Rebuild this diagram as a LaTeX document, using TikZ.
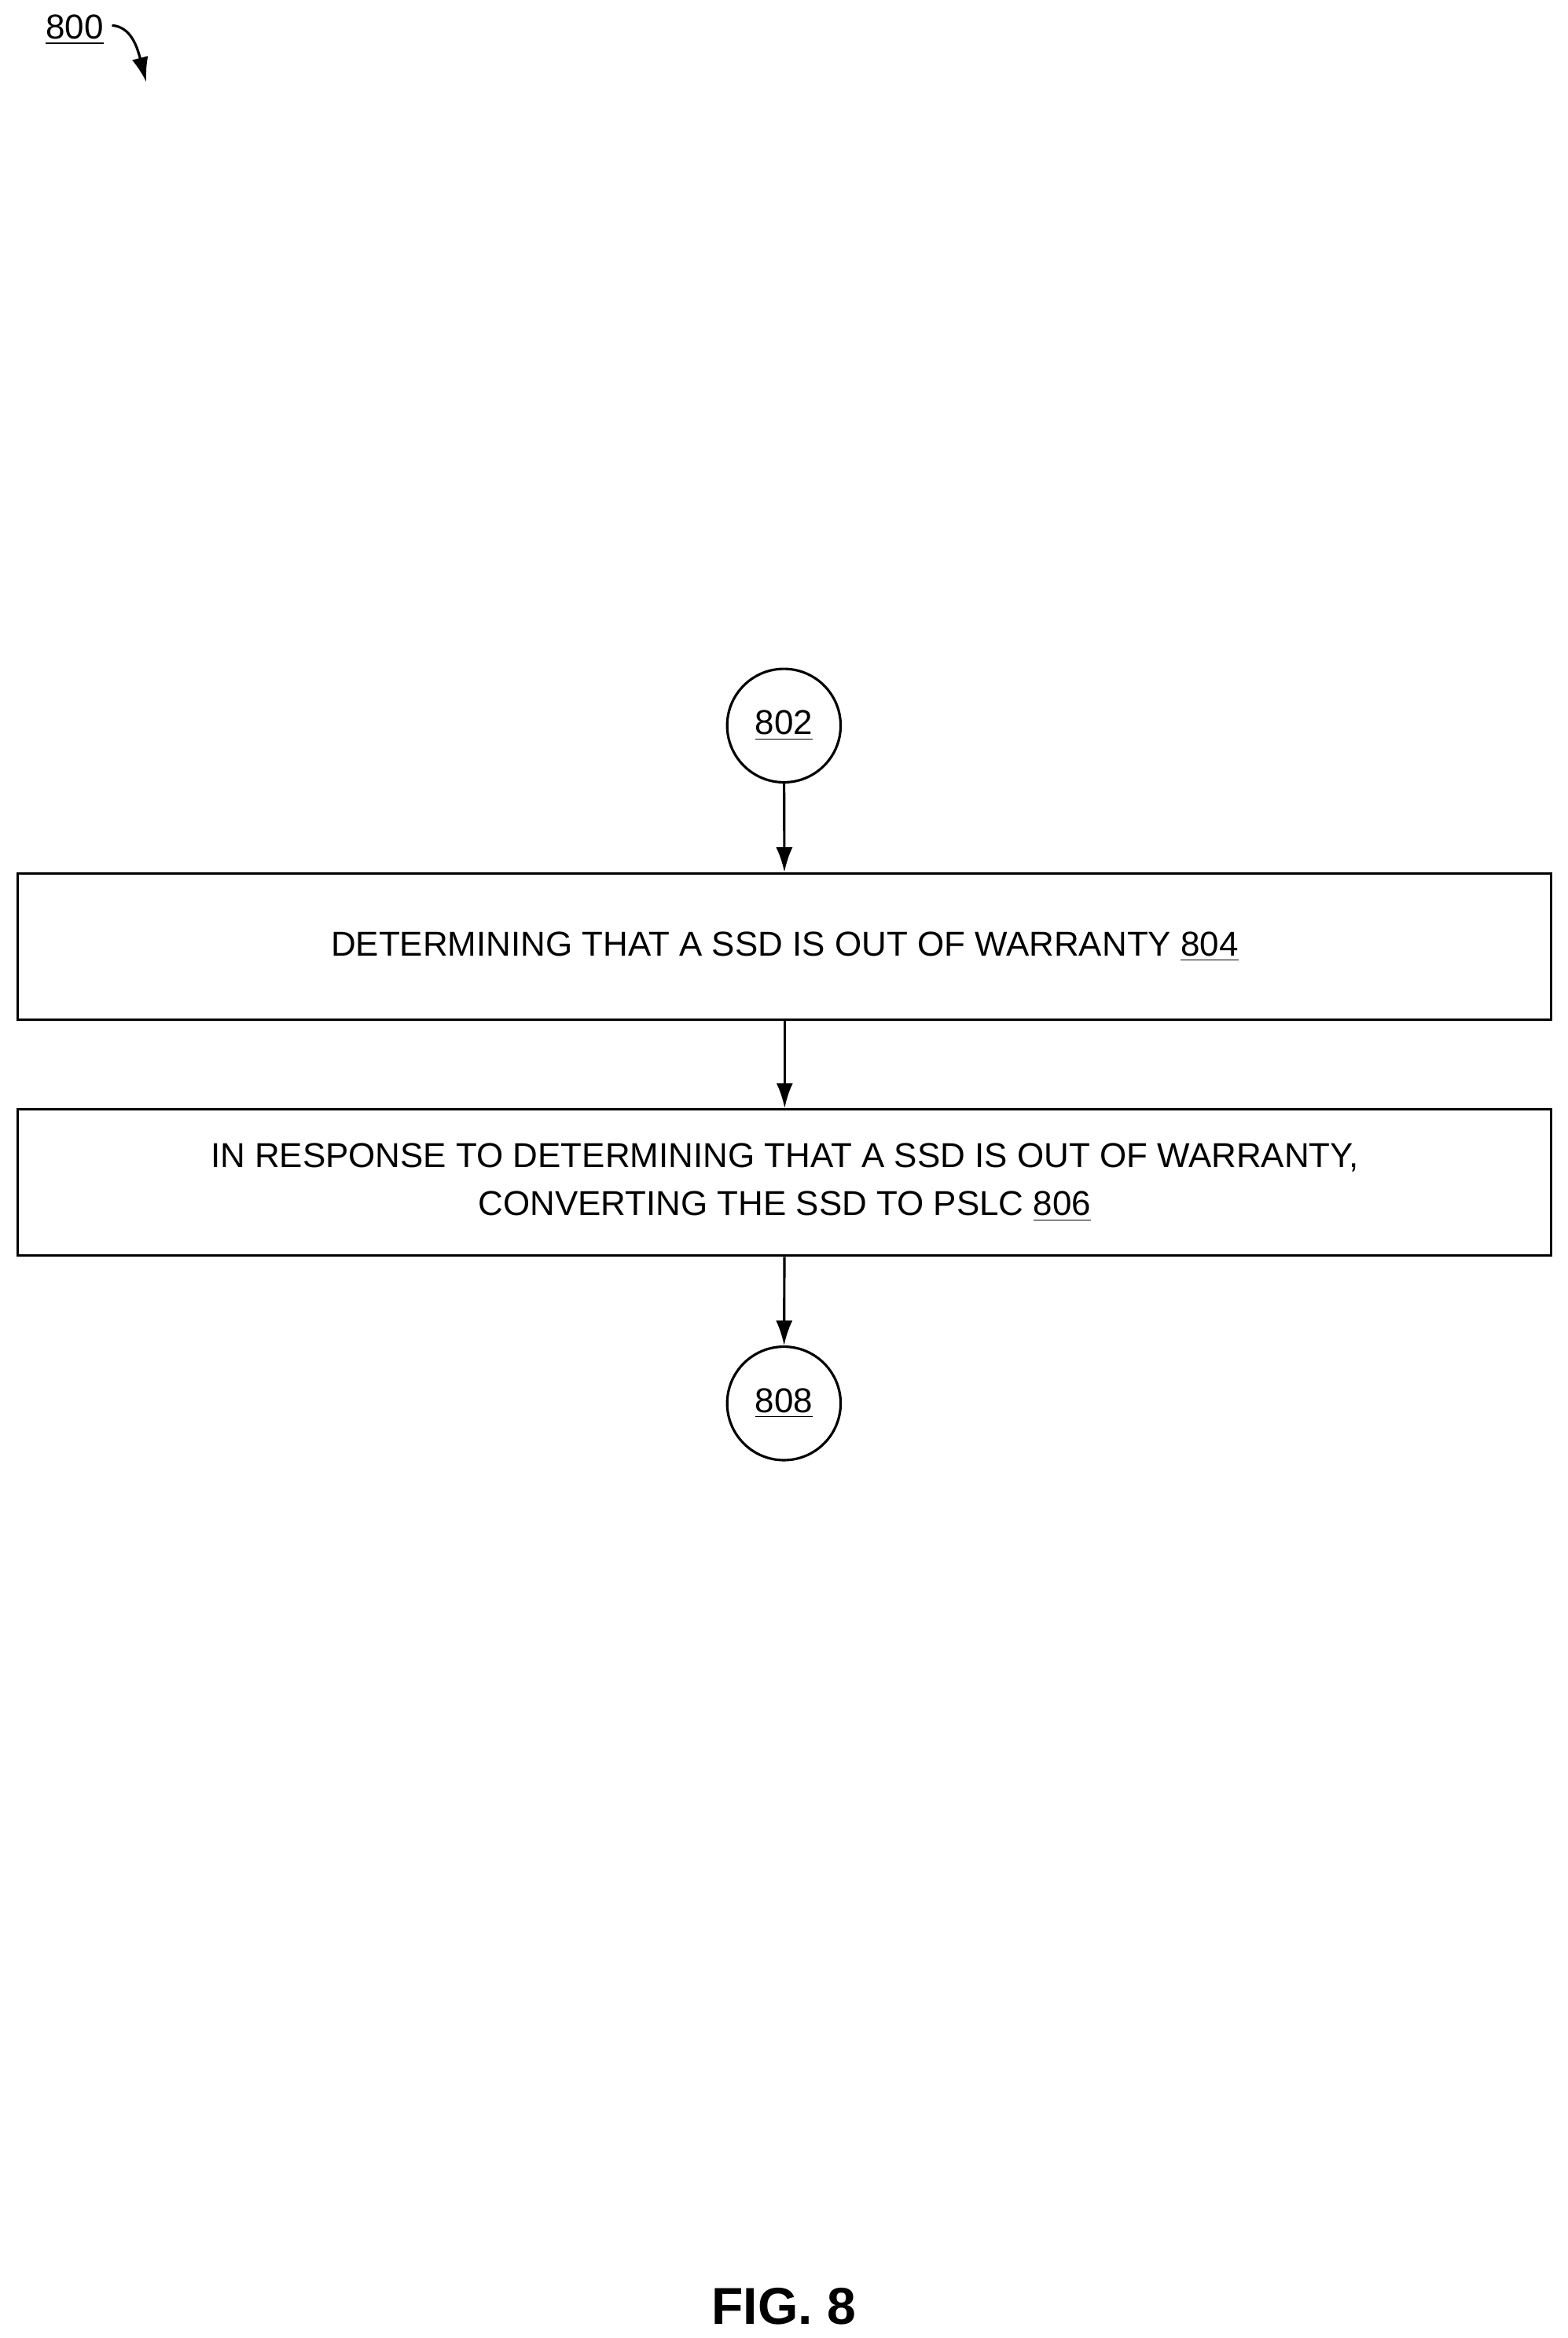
\documentclass[tikz,border=0pt]{standalone}
\usepackage{fontspec}
\setmainfont{Liberation Sans}
\usetikzlibrary{arrows.meta}
\begin{document}
\begin{tikzpicture}[x=0.019cm,y=-0.019cm,
  box/.style={draw,line width=0.9pt,minimum width=1027*0.019cm,minimum height=98*0.019cm,align=center,font=\fontsize{12.5}{17.5}\selectfont},
  conn/.style={draw,line width=0.9pt,minimum size=76*0.019cm,circle,font=\fontsize{12.5}{15}\selectfont},
  arr/.style={-{Latex[length=9pt,width=6pt]},line width=0.9pt}]
\useasboundingbox (0,0) rectangle (1050,1566);
\node[font=\fontsize{12.5}{15}\selectfont] (lbl) at (50,20) {\underline{800}};
\coordinate (lblend) at (98,55);
\draw[arr] (75,17) .. controls (88,18) and (92,32) .. (lblend);
\node[conn] (c802) at (525,486) {\underline{802}};
\node[box] (b804) at (525.5,634) {DETERMINING THAT A SSD IS OUT OF WARRANTY \underline{804}};
\node[box] (b806) at (525.5,792) {IN RESPONSE TO DETERMINING THAT A SSD IS OUT OF WARRANTY,\\CONVERTING THE SSD TO PSLC \underline{806}};
\node[conn] (c808) at (525,940) {\underline{808}};
\draw[arr] (c802) -- (b804);
\draw[arr] (b804) -- (b806);
\draw[arr] (b806) -- (c808);
\node[font=\bfseries\fontsize{18.8}{22}\selectfont] (fig) at (525,1545) {FIG. 8};
\end{tikzpicture}
\end{document}
